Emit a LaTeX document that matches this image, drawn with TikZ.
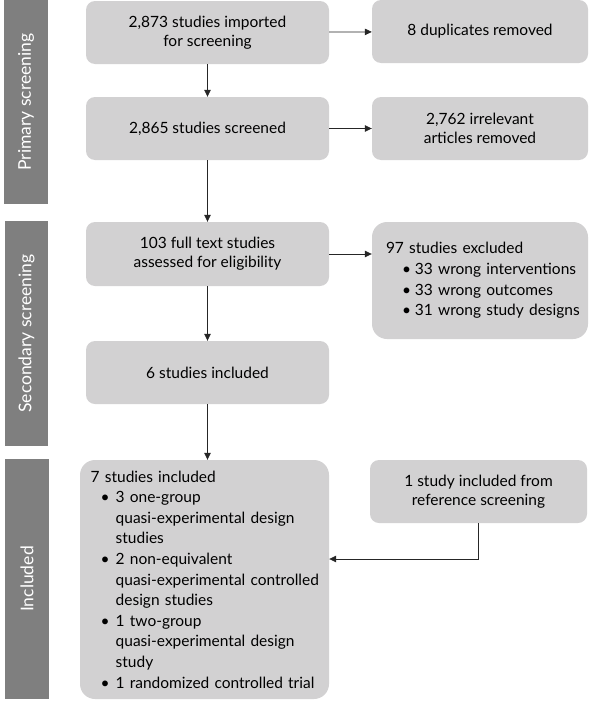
\documentclass[tikz,border=0pt]{standalone}
\usepackage{fontspec}
\setmainfont{Lato}
\usetikzlibrary{arrows.meta}
\definecolor{boxgray}{HTML}{D2D1D2}
\definecolor{bargray}{HTML}{7F7F7F}
\newcommand{\bl}[1]{\mbox{\hspace*{10pt}\makebox[15pt][l]{\textbullet}#1}}
\newcommand{\cl}[1]{\mbox{\hspace*{25pt}#1}}
\newcommand{\xbl}[1]{\mbox{\hspace*{16pt}\makebox[13pt][l]{\textbullet}#1}}

\begin{document}
\begin{tikzpicture}[x=1pt,y=-1pt,
  box/.style={fill=boxgray,rounded corners=9pt,inner sep=0pt,align=center,
    font=\fontsize{15.5}{19}\selectfont},
  listbox/.style={fill=boxgray,rounded corners=15pt,inner ysep=0pt,align=left,
    font=\fontsize{15.5}{20.6}\selectfont},
  bar/.style={fill=bargray,text=white,inner sep=0pt,rotate=90,
    font=\fontsize{17.5}{17.5}\selectfont},
  arr/.style={-{Triangle[length=7pt,width=6.5pt]},line width=0.8pt,color=black!85}]
\useasboundingbox (0,0) rectangle (600,712);

\node[bar,minimum width=204,minimum height=44] (prim) at (26,102) {Primary screening};
\node[bar,minimum width=225,minimum height=43] (sec) at (26.5,333.5) {Secondary screening};
\node[bar,minimum width=240,minimum height=44] (inc) at (27,579) {Included};

\node[box,minimum width=243,minimum height=63] (imp) at (207.5,32.5) {2,873 studies imported\\for screening};
\node[box,minimum width=216,minimum height=63] (dup) at (480,31.5) {8 duplicates removed};
\node[box,minimum width=243,minimum height=63] (scr) at (207.5,128.5) {2,865 studies screened};
\node[box,minimum width=216,minimum height=63] (irr) at (480,128.5) {2,762 irrelevant\\articles removed};
\node[box,minimum width=243,minimum height=64] (full) at (207.5,254) {103 full text studies\\assessed for eligibility};
\node[listbox,inner xsep=14pt,text width=188pt,minimum height=117] (excl) at (480,280.5)
  {\mbox{97 studies excluded}\\
   \xbl{33 wrong interventions}\\
   \xbl{33 wrong outcomes}\\
   \xbl{31 wrong study designs}};
\node[box,minimum width=243,minimum height=63] (six) at (207.5,372.5) {6 studies included};
\node[listbox,inner xsep=10.7pt,text width=227.6pt,minimum height=239] (seven) at (204.5,579.5)
  {\mbox{7 studies included}\\
   \bl{3 one-group}\\
   \cl{quasi-experimental design}\\
   \cl{studies}\\
   \bl{2 non-equivalent}\\
   \cl{quasi-experimental controlled}\\
   \cl{design studies}\\
   \bl{1 two-group}\\
   \cl{quasi-experimental design}\\
   \cl{study}\\
   \bl{1 randomized controlled trial}};
\node[box,minimum width=217,minimum height=63] (ref) at (478.5,491.5) {1 study included from\\reference screening};

\draw[arr] (imp) -- (scr);
\draw[arr] (scr) -- (full);
\draw[arr] (full) -- (six);
\draw[arr] (six) -- (six |- seven.north);
\draw[arr] (imp) -- (dup);
\draw[arr] (scr) -- (irr);
\draw[arr] (full) -- (full -| excl.west);
\draw[arr] (ref.south) |- ([yshift=20.5pt]seven.east);
\end{tikzpicture}
\end{document}
